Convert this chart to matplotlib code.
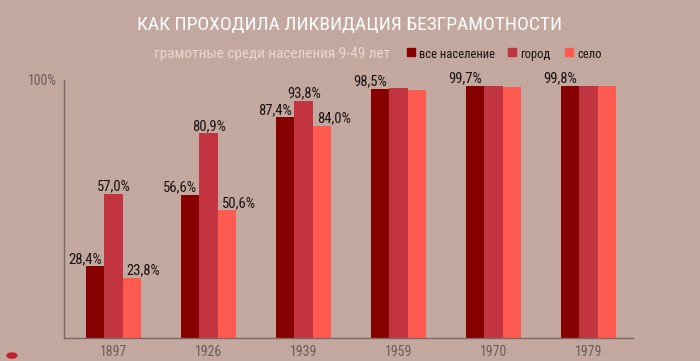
import matplotlib.pyplot as plt
import numpy as np

# ___data___
years = ['1897', '1926', '1939', '1959', '1970', '1979']
all_pop = [28.4, 56.6, 87.4, 98.5, 99.7, 99.8]
city = [57.0, 80.9, 93.8, 98.9, 99.7, 99.8]
village = [23.8, 50.6, 84.0, 98.1, 99.4, 99.8]
# which bars carry a value label
labels_all = [True, True, True, True, True, True]
labels_city = [True, True, True, False, False, False]
labels_village = [True, True, True, False, False, False]

series_names = ['все население', 'город', 'село']
colors = ['#870000', '#c2343f', '#ff5a50']

bg = '#c2a89f'
plt.rcParams['font.family'] = ['Roboto Condensed', 'Roboto', 'DejaVu Sans']

fig = plt.figure(figsize=(7, 3.61), dpi=100, facecolor=bg)
ax = fig.add_axes([0.0914, 0.0637, 0.8129, 0.7147], facecolor=bg)

x = np.arange(len(years))
w = 0.195
# label placement per series: (horizontal alignment, which bar edge, x offset in points)
label_style = [('right', 0.5, -1.5), ('center', 0.0, 0.5), ('left', -0.5, 3.0)]
series = [(all_pop, labels_all), (city, labels_city), (village, labels_village)]
for i, (vals, flags) in enumerate(series):
    pos = x + (i - 1) * w
    ax.bar(pos, vals, width=w, color=colors[i], linewidth=0)
    ha, edge, dx = label_style[i]
    for p, v, f in zip(pos, vals, flags):
        if f:
            ax.annotate(('%.1f%%' % v).replace('.', ','), (p + edge * w, v),
                        xytext=(dx, 2.2), textcoords='offset points',
                        ha=ha, va='baseline', fontsize=10.5, color='#1a1212')

ax.set_xlim(-0.52, 5.47)
ax.set_ylim(0, 102)
ax.set_xticks(x)
ax.set_xticklabels(years, fontsize=10, color='#6b5d59')
ax.set_yticks([102])
ax.set_yticklabels(['100%'], fontsize=10, color='#6b5d59')
ax.tick_params(length=0, pad=5)
for s in ['top', 'right']:
    ax.spines[s].set_visible(False)
for s in ['left', 'bottom']:
    ax.spines[s].set_color('#7a6a66')
    ax.spines[s].set_linewidth(1)

# title and subtitle
fig.text(0.5, 0.917, 'КАК ПРОХОДИЛА ЛИКВИДАЦИЯ БЕЗГРАМОТНОСТИ', ha='center', va='baseline',
         fontsize=14, color='white')
fig.text(0.389, 0.839, 'грамотные среди населения 9-49 лет', ha='center', va='baseline',
         fontsize=11, color='#ecd4cf')

# legend
leg_x = [407 / 700, 508 / 700, 565 / 700]
for lx, name, c in zip(leg_x, series_names, colors):
    fig.patches.append(plt.Rectangle((lx, 0.845), 0.0114, 0.0222, transform=fig.transFigure,
                                     color=c, figure=fig))
    fig.text(lx + 0.0171, 0.839, name, ha='left', va='baseline', fontsize=9, color='#1a1212')

# small decorative dot bottom-left
fig.patches.append(plt.Circle((0.017, 0.015), 0.007, transform=fig.transFigure,
                              color='#c0202a', figure=fig))

fig.savefig('out.png', dpi=100, facecolor=bg)
